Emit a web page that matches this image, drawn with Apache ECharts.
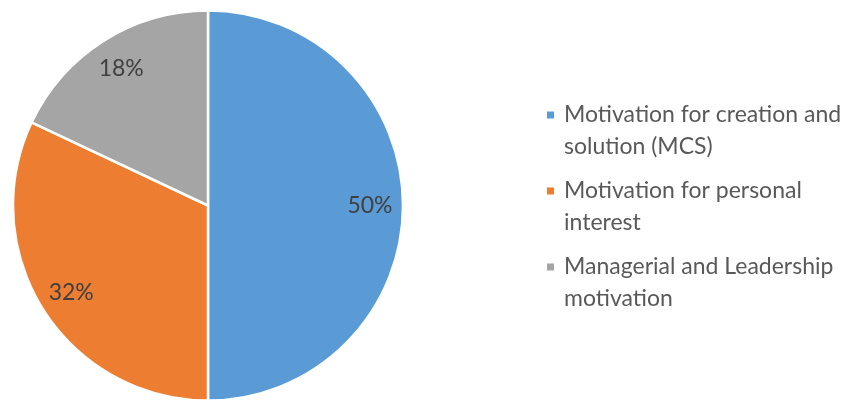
<!DOCTYPE html>
<html>
<head>
<meta charset="utf-8">
<script src="https://cdn.jsdelivr.net/npm/echarts@6/dist/echarts.min.js"></script>
<style>html,body{margin:0;padding:0;background:#fff}#c{width:842px;height:401px}</style>
</head>
<body>
<div id="c"></div>
<script>
const categories = ['Motivation for creation and solution (MCS)', 'Motivation for personal interest', 'Managerial and Leadership motivation'];
const legendLines = ['Motivation for creation and\nsolution (MCS)', 'Motivation for personal\ninterest', 'Managerial and Leadership\nmotivation'];
const values = [50, 32, 18];
const colors = ['#5B9BD5', '#ED7D31', '#A5A5A5'];

const FONT = 'Lato';
const chart = echarts.init(document.getElementById('c'), null, {renderer: 'canvas'});
const data = categories.map((n, i) => ({name: n, value: values[i], itemStyle: {color: colors[i]}}));
const labelData = categories.map((n, i) => ({name: n, value: values[i]}));
chart.setOption({
  animation: false,
  legend: {
    orient: 'vertical',
    left: 542,
    top: 62,
    icon: 'rect',
    itemWidth: 7,
    itemHeight: 7,
    itemGap: -20,
    data: categories,
    itemStyle: {borderWidth: 0},
    // leading blank line keeps the marker level with the first text line
    formatter: function (name) { return '\n' + legendLines[categories.indexOf(name)]; },
    textStyle: {
      fontFamily: FONT,
      fontSize: 23,
      color: '#595959',
      lineHeight: 32,
      padding: [0, 0, 0, 5]
    }
  },
  series: [
    {
      type: 'pie',
      center: [208, 205.5],
      radius: [0, 195],
      startAngle: 90,
      clockwise: true,
      silent: true,
      data: data,
      itemStyle: {borderColor: '#fff', borderWidth: 2.5},
      label: {show: false},
      labelLine: {show: false}
    },
    {
      type: 'pie',
      center: [208, 205.5],
      radius: [123, 195],
      startAngle: 90,
      clockwise: true,
      silent: true,
      data: labelData,
      itemStyle: {color: 'rgba(0,0,0,0)'},
      label: {
        show: true,
        position: 'inside',
        formatter: '{c}%',
        fontFamily: FONT,
        fontSize: 23,
        color: '#404040'
      },
      labelLine: {show: false}
    }
  ]
});
</script>
</body>
</html>
